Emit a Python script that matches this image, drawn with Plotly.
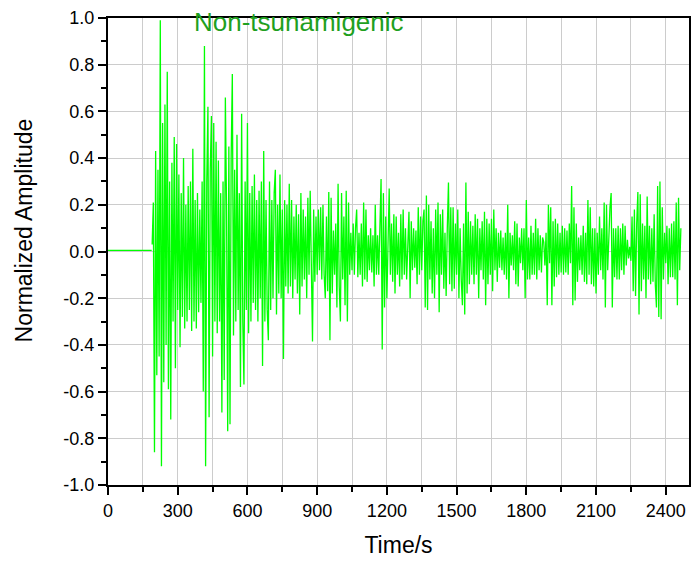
import plotly.graph_objects as go

# ---------------- data ----------------
pre_event_time = [0, 95, 188]
pre_event_amp = [0.005, 0.004, 0.005]

event_start_s = 190
sample_step_s = 5

burst_amp = [
    0.03, 0.21, -0.86, 0.43, -0.53, 0.35, -0.45, 0.99, -0.92, 0.55,
    -0.56, 0.63, -0.40, 0.77, -0.59, 0.30, -0.72, 0.38, -0.30, 0.49,
    -0.50, 0.46, -0.25, 0.33, -0.41, 0.25, -0.28, 0.40, -0.33, 0.20,
    -0.30, 0.28, -0.25, 0.30, -0.34, 0.44, -0.30, 0.22, -0.33, 0.25,
    -0.26, 0.18, -0.22, 0.30, -0.60, 0.88, -0.92, 0.30, 0.62, -0.71,
    0.35, 0.58, -0.45, 0.55, -0.30, 0.47, -0.35, 0.39, -0.30, 0.25,
    -0.69, 0.30, -0.55, 0.66, 0.20, -0.77, 0.45, -0.74, 0.40, 0.76,
    -0.36, 0.35, -0.30, 0.50, -0.25, 0.25, -0.58, 0.59, -0.30, -0.57,
    0.30, -0.25, 0.55, -0.35, 0.25, -0.30, 0.28, -0.22, 0.33, -0.25,
    0.22, -0.30, 0.26, -0.20, 0.30, -0.49, 0.43, -0.30, 0.22, -0.25,
]

coda_early_amp = [
    -0.38, 0.30, -0.25, 0.22, -0.20, 0.25, 0.35, -0.27, 0.20, -0.18,
    0.33, -0.20, 0.18, -0.46, 0.22, -0.15, 0.20, -0.18, 0.29, -0.15,
    0.22, -0.20, 0.15, -0.12, 0.20, -0.18, 0.16, -0.27, 0.25, -0.15,
    0.18, -0.12, 0.15, -0.20, 0.23, -0.10, 0.26, -0.15, -0.385, 0.18,
    -0.13, 0.15, -0.10, 0.18, -0.08, 0.19, -0.12, 0.20, -0.10, -0.20,
    0.15, -0.17, 0.255, -0.38, 0.23, -0.18, 0.09, -0.10, 0.12, -0.24,
    0.29, -0.15, -0.30, 0.25, -0.12, 0.15, -0.23, 0.26, -0.30, 0.21,
    -0.10, 0.08, -0.08, 0.12, -0.10, 0.10, 0.18, -0.11, 0.08, -0.10,
    0.12, -0.15, 0.21, -0.12, 0.18, -0.13, 0.07, -0.08, 0.10, -0.09,
    0.07, -0.15, 0.20, -0.10, 0.07, -0.10, 0.12, 0.31, -0.42, 0.25,
]

coda_mid_amp = [
    -0.24, 0.15, -0.20, 0.10, 0.27, -0.10, 0.12, -0.13, 0.16, -0.18,
    0.15, -0.10, 0.08, -0.15, 0.16, -0.12, 0.18, -0.10, 0.10, -0.12,
    0.08, 0.17, -0.20, 0.13, -0.08, 0.10, -0.07, 0.09, -0.14, 0.19,
    -0.10, 0.15, -0.08, 0.13, 0.18, -0.24, 0.24, -0.25, 0.20, -0.12,
    0.13, -0.18, 0.10, -0.20, 0.18, -0.10, 0.21, -0.26, 0.16, -0.10,
    0.18, -0.16, 0.08, -0.19, 0.10, 0.295, -0.14, 0.19, -0.17, 0.19,
    -0.16, 0.12, -0.10, 0.18, -0.20, 0.10, -0.12, -0.23, 0.12, -0.27,
    0.295, -0.18, 0.17, -0.14, 0.13, -0.10, 0.11, -0.14, 0.16, -0.10,
    0.14, -0.20, 0.10, -0.08, 0.13, -0.12, 0.17, -0.23, 0.14, -0.14,
    0.12, -0.10, 0.14, -0.17, 0.18, -0.08, 0.10, -0.13, 0.08, -0.07,
]

coda_late_amp = [
    0.09, -0.08, 0.06, -0.10, 0.08, -0.12, 0.20, -0.20, 0.08, -0.06,
    0.07, -0.08, 0.13, -0.14, 0.12, -0.15, 0.06, -0.05, 0.10, -0.08,
    0.10, -0.20, 0.22, -0.12, 0.06, -0.12, 0.11, -0.10, 0.08, -0.10,
    0.14, -0.12, 0.10, -0.08, 0.07, -0.09, 0.06, 0.04, -0.06, 0.08,
    -0.23, 0.20, -0.05, 0.19, -0.23, 0.13, -0.15, 0.14, -0.11, 0.12,
    -0.10, 0.08, -0.09, 0.11, -0.10, 0.10, -0.09, 0.09, -0.10, 0.12,
    -0.05, 0.28, -0.23, 0.19, -0.21, 0.12, -0.13, 0.06, -0.08, 0.07,
    -0.10, 0.11, -0.13, 0.08, -0.14, 0.22, -0.10, 0.19, -0.14, 0.10,
    -0.15, 0.10, -0.18, 0.08, -0.10, 0.15, -0.08, 0.10, -0.12, 0.21,
    -0.24, 0.20, -0.08, 0.10, 0.19, 0.25, -0.24, 0.10, -0.11, 0.10,
]

coda_tail_amp = [
    -0.12, 0.11, -0.12, 0.10, -0.08, 0.12, -0.10, 0.11, -0.06, 0.05,
    -0.03, 0.02, -0.04, 0.15, -0.17, 0.18, -0.19, 0.12, 0.255, -0.27,
    0.245, -0.17, 0.12, -0.12, 0.11, -0.20, 0.235, -0.12, 0.11, -0.14,
    0.10, -0.13, 0.16, -0.14, -0.24, 0.28, -0.28, 0.30, -0.29, 0.19,
    -0.12, 0.08, -0.05, 0.11, -0.14, 0.10, -0.11, 0.12, -0.11, 0.13,
    -0.12, 0.21, -0.23, 0.23, -0.08, 0.10,
]

x_tick_vals = [0, 300, 600, 900, 1200, 1500, 1800, 2100, 2400]
x_tick_text = ["0", "300", "600", "900", "1200", "1500", "1800", "2100", "2400"]
y_tick_vals = [-1.0, -0.8, -0.6, -0.4, -0.2, 0.0, 0.2, 0.4, 0.6, 0.8, 1.0]
y_tick_text = ["-1.0", "-0.8", "-0.6", "-0.4", "-0.2", "0.0", "0.2", "0.4", "0.6", "0.8", "1.0"]

event_amp = burst_amp + coda_early_amp + coda_mid_amp + coda_late_amp + coda_tail_amp

# ---------------- figure ----------------
FONT = "Liberation Sans, Arial, sans-serif"
GREEN = "#00ff00"

fig = go.Figure()
fig.add_trace(go.Scatter(
    x=pre_event_time, y=pre_event_amp, mode="lines",
    line=dict(color=GREEN, width=1.3), showlegend=False,
))
fig.add_trace(go.Scatter(
    y=event_amp, x0=event_start_s, dx=sample_step_s, mode="lines",
    line=dict(color=GREEN, width=1.3), showlegend=False,
))

axis_common = dict(
    showline=True, linecolor="black", linewidth=2, mirror=True,
    ticks="outside", ticklen=8, tickwidth=2, tickcolor="black",
    showgrid=True, gridcolor="#cccccc", gridwidth=1, zeroline=False,
    tickfont=dict(family=FONT, size=18, color="black"),
)

fig.update_xaxes(
    range=[0, 2500], tickmode="array", tickvals=x_tick_vals, ticktext=x_tick_text,
    title=dict(text="Time/s", font=dict(family=FONT, size=23, color="black"), standoff=17),
    minor=dict(ticks="outside", ticklen=5, tickwidth=2, tickcolor="black",
               dtick=150, tick0=0, showgrid=True, gridcolor="#cccccc", gridwidth=1),
    **axis_common,
)
fig.update_yaxes(
    range=[-1.0, 1.0], tickmode="array", tickvals=y_tick_vals, ticktext=y_tick_text,
    minor=dict(ticks="outside", ticklen=5, tickwidth=2, tickcolor="black",
               dtick=0.1, tick0=0, showgrid=False),
    **axis_common,
)

# y-axis title (placed slightly above the plot centre, as in the original)
fig.add_annotation(
    text="Normalized Amplitude", xref="paper", yref="paper", x=-0.143, y=0.545,
    xanchor="center", yanchor="middle", textangle=-90, showarrow=False,
    font=dict(family=FONT, size=23, color="black"),
)

fig.add_annotation(
    text="Non-tsunamigenic", xref="paper", yref="paper", x=0.329, y=0.992,
    xanchor="center", yanchor="middle", showarrow=False,
    font=dict(family=FONT, size=26, color="#1fa01f"),
)

fig.update_layout(
    width=699, height=562,
    margin=dict(l=108, r=8, t=14, b=75),
    paper_bgcolor="white", plot_bgcolor="white",
    font=dict(family=FONT),
)

fig.write_html("out.html")
